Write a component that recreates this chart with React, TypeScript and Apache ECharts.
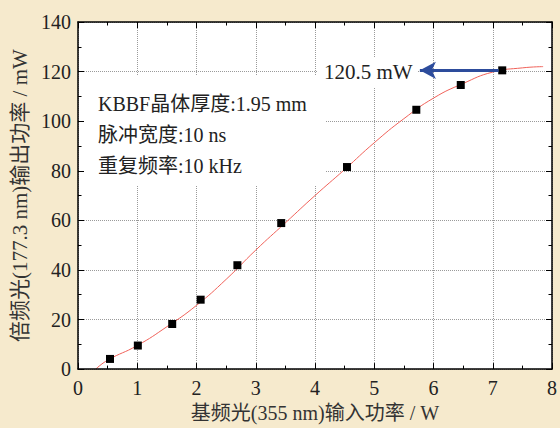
import React, { useEffect, useRef } from "react";
import * as echarts from "echarts";

const curveX = [0.3, 0.5, 1, 1.5, 2, 2.5, 3, 3.5, 4, 4.5, 5, 5.5, 6, 6.5, 7, 7.5, 7.85];
const curveY = [0, 3.6, 9.5, 17.1, 25.7, 36.2, 48, 59, 70, 80.5, 91.3, 101, 109.3, 115.2, 119.8, 121.5, 122.0];

const pointX = [0.54, 1.01, 1.59, 2.07, 2.69, 3.43, 4.54, 5.71, 6.46, 7.16];
const pointY = [4.1, 9.5, 18.2, 28.0, 41.9, 58.9, 81.5, 104.6, 114.6, 120.5];

const arrowFrom = [7.1, 120.5];
const arrowTo = [5.77, 120.5];

const xName = "基频光(355 nm)输入功率 / W";
const yName = "倍频光(177.3 nm)输出功率 / mW";
const infoLines = ["KBBF晶体厚度:1.95 mm", "脉冲宽度:10 ns", "重复频率:10 kHz"];
const peakLabel = "120.5 mW";

const FONT = "'Liberation Serif', 'Times New Roman', 'Noto Sans CJK SC', serif";
const BG = "#f6eacd";

export default function App() {
  const ref = useRef<HTMLDivElement>(null);
  useEffect(() => {
    if (!ref.current) return;
    const chart = echarts.init(ref.current, null, { renderer: "svg" });
    const gridDef = { left: 78, top: 22, right: 5, bottom: 54 };
    const tickCommon = {
      axisLine: { show: true, onZero: false, lineStyle: { color: "#000", width: 1.5 } },
      axisTick: { show: true, inside: true, length: 6, lineStyle: { color: "#000", width: 1 } },
      minorTick: { show: true, splitNumber: 2, length: 3.5, lineStyle: { color: "#000", width: 1 } },
      splitLine: { show: false },
    };
    const xBase = { type: "value", min: 0, max: 8, interval: 1 };
    const yBase = { type: "value", min: 0, max: 140, interval: 20 };
    const option = {
      animation: false,
      backgroundColor: BG,
      grid: { ...gridDef, backgroundColor: "#fff", show: true, borderWidth: 0 },
      xAxis: [
        {
          ...xBase,
          ...tickCommon,
          position: "bottom",
          z: 5,
          axisLabel: { color: "#222", fontFamily: FONT, fontSize: 20, margin: 9 },
          name: xName,
          nameLocation: "middle",
          nameGap: 31,
          nameTextStyle: { color: "#333", fontFamily: FONT, fontSize: 20 },
        },
        {
          ...xBase,
          ...tickCommon,
          position: "top",
          z: 5,
          axisLabel: { show: false },
        },
        {
          ...xBase,
          position: "bottom",
          z: 0,
          axisLine: { show: false },
          axisTick: { show: false },
          axisLabel: { show: false },
          splitLine: { show: true, lineStyle: { color: "#9a9a9a", type: "dotted", width: 1 } },
        },
      ],
      yAxis: [
        {
          ...yBase,
          ...tickCommon,
          position: "left",
          z: 5,
          axisLabel: { color: "#222", fontFamily: FONT, fontSize: 20, margin: 7 },
          name: yName,
          nameLocation: "middle",
          nameRotate: 90,
          nameGap: 46,
          nameTextStyle: { color: "#333", fontFamily: FONT, fontSize: 21 },
        },
        {
          ...yBase,
          ...tickCommon,
          position: "right",
          z: 5,
          axisLabel: { show: false },
        },
        {
          ...yBase,
          position: "left",
          z: 0,
          axisLine: { show: false },
          axisTick: { show: false },
          axisLabel: { show: false },
          splitLine: { show: true, lineStyle: { color: "#9a9a9a", type: "dotted", width: 1 } },
        },
      ],
      series: [
        {
          type: "line",
          xAxisIndex: 0,
          yAxisIndex: 0,
          data: curveX.map((x, i) => [x, curveY[i]]),
          smooth: true,
          showSymbol: false,
          lineStyle: { color: "#f0625a", width: 1 },
          z: 2,
        },
        {
          type: "scatter",
          xAxisIndex: 0,
          yAxisIndex: 0,
          data: pointX.map((x, i) => [x, pointY[i]]),
          symbol: "rect",
          symbolSize: 8,
          itemStyle: { color: "#000", opacity: 1 },
          z: 3,
          markLine: {
            silent: true,
            symbol: ["none", "arrow"],
            symbolSize: [13, 16],
            label: { show: false },
            lineStyle: { color: "#2d4c9c", width: 3, type: "solid" },
            data: [[{ coord: arrowFrom }, { coord: arrowTo }]],
          },
        },
      ],
      graphic: [
        { type: "rect", z: 1, shape: { x: 80, y: 76, width: 245, height: 110 }, style: { fill: "#fff" } },
        ...infoLines.map((t, i) => ({
          type: "text",
          z: 1,
          x: 98,
          y: 104 + i * 31,
          style: { text: t, fill: "#222", font: `20px ${FONT}`, verticalAlign: "middle", align: "left" },
        })),
        { type: "rect", z: 1, shape: { x: 318, y: 57, width: 100, height: 30 }, style: { fill: "#fff" } },
        {
          type: "text",
          z: 1,
          x: 324,
          y: 72,
          style: { text: peakLabel, fill: "#222", font: `21px ${FONT}`, verticalAlign: "middle", align: "left" },
        },
      ],
    };
    chart.setOption(option as any);
    return () => chart.dispose();
  }, []);
  return (
    <div
      ref={ref}
      style={{ position: "fixed", left: 0, top: 0, width: 560, height: 428 }}
    />
  );
}
